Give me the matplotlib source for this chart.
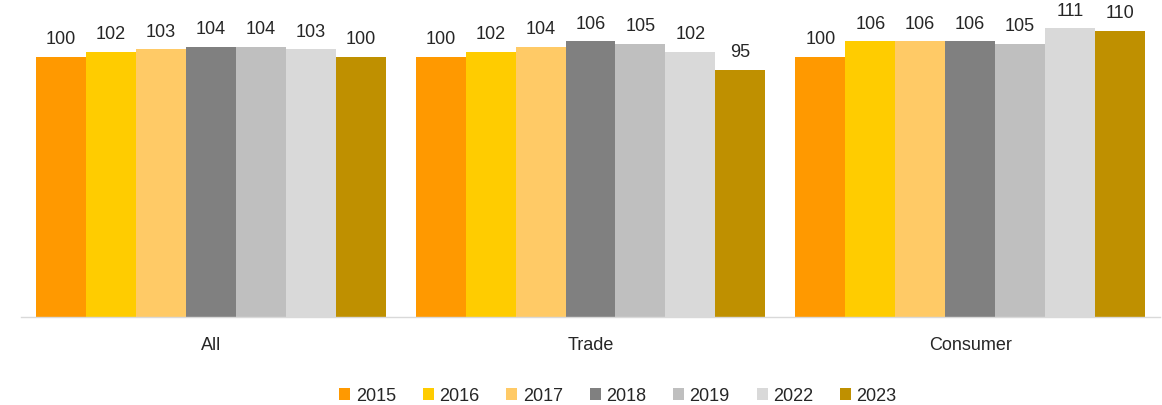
import matplotlib
matplotlib.use("Agg")
import matplotlib.pyplot as plt
import numpy as np

categories = ["All", "Trade", "Consumer"]
years = ["2015", "2016", "2017", "2018", "2019", "2022", "2023"]
values = {
    "2015": [100, 100, 100],
    "2016": [102, 102, 106],
    "2017": [103, 104, 106],
    "2018": [104, 106, 106],
    "2019": [104, 105, 105],
    "2022": [103, 102, 111],
    "2023": [100, 95, 110],
}
colors = ["#FF9900", "#FFCC00", "#FFCA66", "#808080", "#BFBFBF", "#D9D9D9", "#BF9000"]

plt.rcParams['font.family'] = ['Liberation Sans', 'DejaVu Sans']

fig = plt.figure(figsize=(11.62, 4.06), dpi=100)
ax = fig.add_axes([21/1162, 0.2167, (1160-21)/1162, 0.953-0.2167])

x = np.arange(len(categories))
n = len(years)
w = 0.921 / n
for i, (yr, c) in enumerate(zip(years, colors)):
    pos = x - 0.921/2 + w*(i+0.5)
    bars = ax.bar(pos, values[yr], width=w, color=c, label=yr)
    for b, v in zip(bars, values[yr]):
        ax.annotate(str(v), (b.get_x()+b.get_width()/2, b.get_height()),
                    xytext=(0, 7), textcoords="offset points",
                    ha="center", va="bottom", fontsize=13, color="#262626")

ax.set_xlim(-0.5, 2.5)
ax.set_ylim(0, 115)
ax.set_xticks(x)
ax.set_xticklabels(categories, fontsize=13, color="#262626")
ax.tick_params(axis='x', length=0, pad=14)
ax.set_yticks([])
for s in ["top", "right", "left"]:
    ax.spines[s].set_visible(False)
ax.spines["bottom"].set_color("#D9D9D9")
ax.spines["bottom"].set_linewidth(1)

fig.legend(loc="center", bbox_to_anchor=(618/1162, 9/406), ncol=7, frameon=False,
           fontsize=13, handlelength=0.6, handleheight=0.6, handletextpad=0.3,
           columnspacing=1.5, labelcolor="#262626")

fig.savefig("out.png", dpi=100)
